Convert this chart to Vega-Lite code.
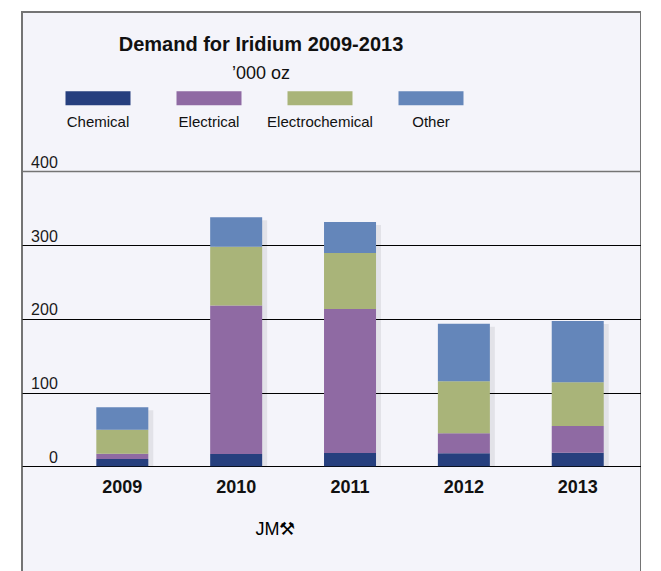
{
  "$schema": "https://vega.github.io/schema/vega-lite/v6.json",
  "width": 619,
  "height": 587,
  "padding": {"left": 22, "top": 12, "right": 0, "bottom": 0},
  "background": "#ffffff",
  "title": {
    "text": "Demand for Iridium 2009-2013",
    "subtitle": "’000 oz",
    "anchor": "middle",
    "frame": "group",
    "offset": -71,
    "dx": -70.5,
    "font": "Liberation Sans",
    "fontSize": 20,
    "fontWeight": "bold",
    "color": "#111111",
    "subtitleFont": "Liberation Sans",
    "subtitleFontSize": 18,
    "subtitleColor": "#111111",
    "subtitlePadding": 10
  },
  "data": {
    "values": [
      {"year": "2009", "category": "Chemical", "value": 10},
      {"year": "2009", "category": "Electrical", "value": 7},
      {"year": "2009", "category": "Electrochemical", "value": 32.5},
      {"year": "2009", "category": "Other", "value": 30.5},
      {"year": "2010", "category": "Chemical", "value": 16.7},
      {"year": "2010", "category": "Electrical", "value": 201.3},
      {"year": "2010", "category": "Electrochemical", "value": 79.5},
      {"year": "2010", "category": "Other", "value": 40.2},
      {"year": "2011", "category": "Chemical", "value": 18},
      {"year": "2011", "category": "Electrical", "value": 195.3},
      {"year": "2011", "category": "Electrochemical", "value": 75.9},
      {"year": "2011", "category": "Other", "value": 42.1},
      {"year": "2012", "category": "Chemical", "value": 17.6},
      {"year": "2012", "category": "Electrical", "value": 27.1},
      {"year": "2012", "category": "Electrochemical", "value": 70.6},
      {"year": "2012", "category": "Other", "value": 78.1},
      {"year": "2013", "category": "Chemical", "value": 18.4},
      {"year": "2013", "category": "Electrical", "value": 36.2},
      {"year": "2013", "category": "Electrochemical", "value": 59.3},
      {"year": "2013", "category": "Other", "value": 83.1}
    ]
  },
  "encoding": {
    "x": {
      "field": "year",
      "type": "nominal",
      "scale": {"paddingInner": 0.5433, "paddingOuter": 0.49, "align": 0.666},
      "axis": {
        "title": "JM⚒",
        "orient": "bottom",
        "offset": -133,
        "domain": false,
        "ticks": false,
        "grid": false,
        "labelAngle": 0,
        "labelFont": "Liberation Sans",
        "labelFontWeight": "bold",
        "labelFontSize": 18,
        "labelColor": "#111111",
        "labelPadding": 12,
        "titleFont": "Liberation Sans",
        "titleFontSize": 18,
        "titleFontWeight": "normal",
        "titleColor": "#000000",
        "titleX": 253,
        "titleY": 54,
        "titleBaseline": "top"
      }
    }
  },
  "layer": [
    {
      "mark": {"type": "bar", "color": "#000000", "opacity": 0.07, "xOffset": 5, "yOffset": 3, "y2Offset": 3},
      "encoding": {
        "y": {
          "aggregate": "sum",
          "field": "value",
          "type": "quantitative",
          "title": null,
          "scale": {"domain": [-180, 616], "nice": false, "zero": false},
          "axis": {
            "values": [0, 100, 200, 300, 400],
            "title": null,
            "domain": false,
            "ticks": false,
            "grid": true,
            "gridColor": {"condition": {"test": "datum.value === 400", "value": "#747474"}, "value": "#000000"},
            "gridWidth": {"condition": {"test": "datum.value === 400", "value": 1.6}, "value": 1},
            "labelAlign": "right",
            "labelBaseline": "alphabetic",
            "labelPadding": -35.3,
            "labelOffset": -4,
            "labelFont": "Liberation Sans",
            "labelFontSize": 16,
            "labelColor": "#1a1a1a",
            "labelFlush": false,
            "labelOverlap": false,
            "labelBound": false
          }
        }
      }
    },
    {
      "mark": {"type": "bar"},
      "encoding": {
        "y": {
          "field": "value",
          "type": "quantitative",
          "title": null,
          "stack": "zero",
          "scale": {"domain": [-180, 616], "nice": false, "zero": false},
          "axis": {
            "values": [0, 100, 200, 300, 400],
            "title": null,
            "domain": false,
            "ticks": false,
            "grid": true,
            "gridColor": {"condition": {"test": "datum.value === 400", "value": "#747474"}, "value": "#000000"},
            "gridWidth": {"condition": {"test": "datum.value === 400", "value": 1.6}, "value": 1},
            "labelAlign": "right",
            "labelBaseline": "alphabetic",
            "labelPadding": -35.3,
            "labelOffset": -4,
            "labelFont": "Liberation Sans",
            "labelFontSize": 16,
            "labelColor": "#1a1a1a",
            "labelFlush": false,
            "labelOverlap": false,
            "labelBound": false
          }
        },
        "color": {
          "field": "category",
          "type": "nominal",
          "scale": {
            "domain": ["Chemical", "Electrical", "Electrochemical", "Other"],
            "range": ["#263f7e", "#8f6aa3", "#a9b479", "#6486ba"]
          },
          "legend": {
            "orient": "none",
            "legendX": 43.5,
            "legendY": 77,
            "direction": "horizontal",
            "columns": 4,
            "title": null,
            "symbolType": "M-1,-0.938H1V-0.508H-1ZM-1.692,0H1.692",
            "symbolSize": 4225,
            "symbolStrokeWidth": 0,
            "symbolOpacity": 1,
            "labelAlign": "center",
            "labelOffset": -32.5,
            "labelBaseline": "middle",
            "labelFont": "Liberation Sans",
            "labelFontSize": 15,
            "labelColor": "#111111",
            "labelLimit": 300,
            "columnPadding": 0,
            "rowPadding": 0,
            "padding": 0
          }
        },
        "order": {"field": "category", "sort": "ascending"}
      }
    }
  ],
  "config": {
    "font": "Liberation Sans",
    "view": {"fill": "#f4f4fa", "stroke": "#747474", "strokeWidth": 2}
  }
}
